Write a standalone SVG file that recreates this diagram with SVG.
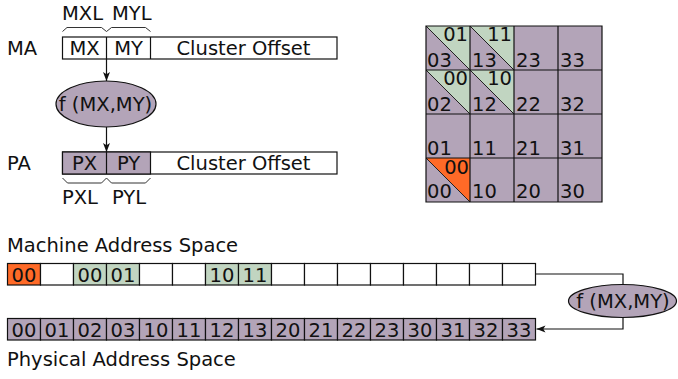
<svg xmlns="http://www.w3.org/2000/svg" width="678" height="379" viewBox="0 0 678 379">
<style>
text{font-family:"DejaVu Sans","Liberation Sans",sans-serif;font-size:19.5px;fill:#111}
.m{text-anchor:middle}
.e{text-anchor:end}
.box{stroke:#111;stroke-width:1.2}
.w{fill:#fff}
.p{fill:#b3a4b8}
.g{fill:#c1d5c1}
.o{fill:#ff6a27}
.ln{fill:none;stroke:#111;stroke-width:1.2}
.br{fill:none;stroke:#333;stroke-width:1}
.dg{stroke:#222;stroke-width:1}
</style>
<defs>
<marker id="ah" markerUnits="userSpaceOnUse" markerWidth="10" markerHeight="8" refX="9" refY="4" orient="auto">
<path d="M0,0.5 L9,4 L0,7.5 L2.2,4 Z" fill="#111"/>
</marker>
</defs>

<g id="ma">
<text x="7" y="55">MA</text>
<rect class="box w" x="62.5" y="37" width="274.5" height="22"/>
<line class="box" x1="106.5" y1="37" x2="106.5" y2="59"/>
<line class="box" x1="150.5" y1="37" x2="150.5" y2="59"/>
<text class="m" x="84.5" y="55">MX</text>
<text class="m" x="128.5" y="55">MY</text>
<text class="m" x="243.5" y="55">Cluster Offset</text>
<path class="br" d="M62.5,31.5 L67,27.5 H101.5 L106.5,31.5 L111.5,27.5 H145.5 L150.5,31.5"/>
<text x="62" y="19.5">MXL</text>
<text x="112" y="19.5">MYL</text>
</g>

<g id="f1">
<ellipse class="box p" cx="106" cy="104" rx="50" ry="23"/>
<text class="m" x="105.5" y="111">f (MX,MY)</text>
</g>

<g id="pa">
<text x="7" y="170">PA</text>
<rect class="box w" x="62.5" y="152" width="274.5" height="22"/>
<rect class="box p" x="62.5" y="152" width="88" height="22"/>
<line class="box" x1="106.5" y1="152" x2="106.5" y2="174"/>
<text class="m" x="84.5" y="170">PX</text>
<text class="m" x="128.5" y="170">PY</text>
<text class="m" x="243.5" y="170">Cluster Offset</text>
<path class="br" d="M62.5,178 L67.5,183 H101.5 L106.5,178 L111.5,183 H145.5 L150.5,178"/>
<text x="62" y="204">PXL</text>
<text x="112" y="204">PYL</text>
</g>

<g id="grid">
<rect class="p" x="426" y="26" width="176" height="176"/>
<path class="g" d="M426,26 H470 V70 Z"/>
<path class="g" d="M470,26 H514 V70 Z"/>
<path class="g" d="M426,70 H470 V114 Z"/>
<path class="g" d="M470,70 H514 V114 Z"/>
<path class="o" d="M426,158 H470 V202 Z"/>
<g class="dg">
<line x1="426" y1="26" x2="470" y2="70"/>
<line x1="470" y1="26" x2="514" y2="70"/>
<line x1="426" y1="70" x2="470" y2="114"/>
<line x1="470" y1="70" x2="514" y2="114"/>
<line x1="426" y1="158" x2="470" y2="202"/>
</g>
<path class="ln" d="M426,26 H602 V202 H426 Z M470,26 V202 M514,26 V202 M558,26 V202 M426,70 H602 M426,114 H602 M426,158 H602"/>
<text x="427" y="67">03</text><text x="472" y="67">13</text><text x="516" y="67">23</text><text x="560" y="67">33</text>
<text x="427" y="111">02</text><text x="472" y="111">12</text><text x="516" y="111">22</text><text x="560" y="111">32</text>
<text x="427" y="155">01</text><text x="472" y="155">11</text><text x="516" y="155">21</text><text x="560" y="155">31</text>
<text x="427" y="198">00</text><text x="472" y="198">10</text><text x="516" y="198">20</text><text x="560" y="198">30</text>
<text class="e" x="468" y="41">01</text><text class="e" x="512" y="41">11</text>
<text class="e" x="468" y="85">00</text><text class="e" x="512" y="85">10</text>
<text class="e" x="469" y="174">00</text>
</g>

<g id="mas">
<text x="7" y="252">Machine Address Space</text>
<g class="box">
<rect class="o" x="7.5" y="263.5" width="33" height="21.5"/>
<rect class="w" x="40.5" y="263.5" width="33" height="21.5"/>
<rect class="g" x="73.5" y="263.5" width="33" height="21.5"/>
<rect class="g" x="106.5" y="263.5" width="33" height="21.5"/>
<rect class="w" x="139.5" y="263.5" width="33" height="21.5"/>
<rect class="w" x="172.5" y="263.5" width="33" height="21.5"/>
<rect class="g" x="205.5" y="263.5" width="33" height="21.5"/>
<rect class="g" x="238.5" y="263.5" width="33" height="21.5"/>
<rect class="w" x="271.5" y="263.5" width="33" height="21.5"/>
<rect class="w" x="304.5" y="263.5" width="33" height="21.5"/>
<rect class="w" x="337.5" y="263.5" width="33" height="21.5"/>
<rect class="w" x="370.5" y="263.5" width="33" height="21.5"/>
<rect class="w" x="403.5" y="263.5" width="33" height="21.5"/>
<rect class="w" x="436.5" y="263.5" width="33" height="21.5"/>
<rect class="w" x="469.5" y="263.5" width="33" height="21.5"/>
<rect class="w" x="502.5" y="263.5" width="33" height="21.5"/>
</g>
<text class="m" x="24" y="281.5">00</text>
<text class="m" x="90" y="281.5">00</text>
<text class="m" x="123" y="281.5">01</text>
<text class="m" x="222" y="281.5">10</text>
<text class="m" x="255" y="281.5">11</text>
</g>

<g id="pas">
<g class="box p">
<rect x="7.5" y="318.5" width="33" height="21.5"/>
<rect x="40.5" y="318.5" width="33" height="21.5"/>
<rect x="73.5" y="318.5" width="33" height="21.5"/>
<rect x="106.5" y="318.5" width="33" height="21.5"/>
<rect x="139.5" y="318.5" width="33" height="21.5"/>
<rect x="172.5" y="318.5" width="33" height="21.5"/>
<rect x="205.5" y="318.5" width="33" height="21.5"/>
<rect x="238.5" y="318.5" width="33" height="21.5"/>
<rect x="271.5" y="318.5" width="33" height="21.5"/>
<rect x="304.5" y="318.5" width="33" height="21.5"/>
<rect x="337.5" y="318.5" width="33" height="21.5"/>
<rect x="370.5" y="318.5" width="33" height="21.5"/>
<rect x="403.5" y="318.5" width="33" height="21.5"/>
<rect x="436.5" y="318.5" width="33" height="21.5"/>
<rect x="469.5" y="318.5" width="33" height="21.5"/>
<rect x="502.5" y="318.5" width="33" height="21.5"/>
</g>
<text class="m" x="24" y="336.5">00</text>
<text class="m" x="57" y="336.5">01</text>
<text class="m" x="90" y="336.5">02</text>
<text class="m" x="123" y="336.5">03</text>
<text class="m" x="156" y="336.5">10</text>
<text class="m" x="189" y="336.5">11</text>
<text class="m" x="222" y="336.5">12</text>
<text class="m" x="255" y="336.5">13</text>
<text class="m" x="288" y="336.5">20</text>
<text class="m" x="321" y="336.5">21</text>
<text class="m" x="354" y="336.5">22</text>
<text class="m" x="387" y="336.5">23</text>
<text class="m" x="420" y="336.5">30</text>
<text class="m" x="453" y="336.5">31</text>
<text class="m" x="486" y="336.5">32</text>
<text class="m" x="519" y="336.5">33</text>
<text x="7" y="366">Physical Address Space</text>
</g>

<g id="f2">
<ellipse class="box p" cx="622.5" cy="301" rx="54" ry="16.5"/>
<text class="m" x="623" y="307.5">f (MX,MY)</text>
</g>

<g id="connectors">
<line class="ln" x1="106.5" y1="59" x2="106.5" y2="81" marker-end="url(#ah)"/>
<line class="ln" x1="106.5" y1="127" x2="106.5" y2="152" marker-end="url(#ah)"/>
<path class="ln" d="M535.5,274 H623 V284.5"/>
<path class="ln" d="M623,317.5 V329 H536.5" marker-end="url(#ah)"/>
</g>
</svg>
